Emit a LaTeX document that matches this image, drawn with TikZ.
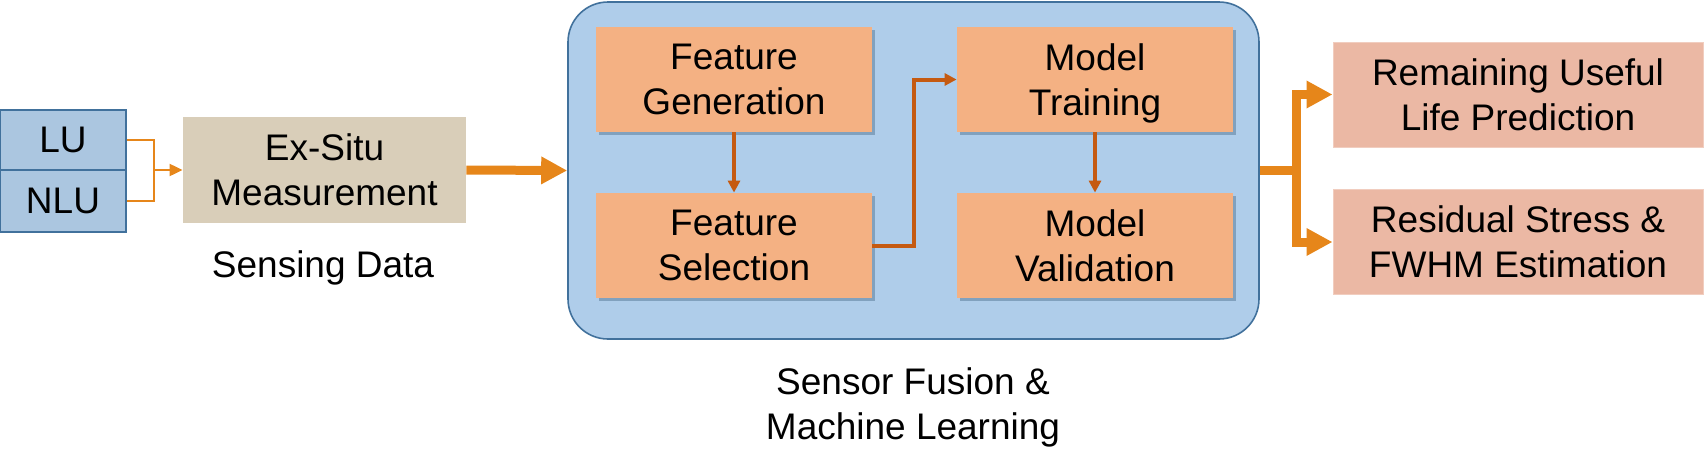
\documentclass[tikz,border=0pt]{standalone}
\usepackage{fontspec}
\setmainfont{Liberation Sans}
\usetikzlibrary{arrows.meta,shadows}
\definecolor{bigfill}{RGB}{175,205,234}
\definecolor{bluedraw}{RGB}{65,113,156}
\definecolor{lufill}{RGB}{171,198,224}
\definecolor{orfill}{RGB}{244,177,131}
\definecolor{tanfill}{RGB}{217,206,185}
\definecolor{outfill}{RGB}{235,184,164}
\definecolor{arrorange}{RGB}{230,134,26}
\definecolor{arrdark}{RGB}{197,90,17}
\begin{document}
\begin{tikzpicture}[x=0.5pt,y=-0.5pt,
  every node/.style={font=\fontsize{18.5}{22.5}\selectfont, align=center, inner sep=0pt},
  lubox/.style={draw=bluedraw, line width=1pt, fill=lufill, minimum width=63pt},
  tanbox/.style={fill=tanfill, minimum width=141.5pt, minimum height=53pt, text depth=0pt},
  bigbox/.style={draw=bluedraw, line width=0.8pt, fill=bigfill, rounded corners=20pt, minimum width=345.5pt, minimum height=168.5pt},
  orbox/.style={fill=orfill, minimum width=138pt, minimum height=52.5pt, text depth=0pt,
     drop shadow={shadow xshift=1.5pt, shadow yshift=-1.5pt, fill=bluedraw!70!black, opacity=0.35}},
  outbox/.style={fill=outfill, draw=outfill!70!white, line width=0.5pt, minimum width=185pt, minimum height=52.5pt, text depth=0pt},
  thinarr/.style={draw=arrorange, line width=1pt},
  thickarr/.style={draw=arrorange, line width=4.5pt, line join=miter},
  bigtip/.style={-{Triangle[length=13pt,width=13pt]}},
  innerarr/.style={draw=arrdark, line width=2pt, line join=miter, -{Triangle[length=6pt,width=6pt]}}
]
\useasboundingbox (0,0) rectangle (1704,472);

% input stack
\node[lubox, minimum height=30pt] (lu) at (63,140) {LU};
\node[lubox, minimum height=31pt] (nlu) at (63,201) {NLU};
\node[tanbox] (ex) at (324.5,170) {Ex-Situ\\Measurement};
\node[anchor=base] (sd) at (323,277) {Sensing Data};

\coordinate (j1) at (154,170);
\draw[thinarr] (lu.east) -| (j1);
\draw[thinarr] (nlu.east) -| (j1);
\draw[thinarr, -{Triangle[length=6.5pt,width=6pt]}] (j1) -- (ex.west);

% fusion block
\node[bigbox] (big) at (913.5,170.5) {};
\node[orbox] (fg) at (734,79.5) {Feature\\Generation};
\node[orbox] (fs) at (734,245.5) {Feature\\Selection};
\node[orbox] (mt) at (1095,79.5) {Model\\Training};
\node[orbox] (mv) at (1095,245.5) {Model\\Validation};
\node (sf) at (913,407) {Sensor Fusion \&\\Machine Learning};

\draw[innerarr] (fg.south) -- (fs.north);
\draw[innerarr] (mt.south) -- (mv.north);
\draw[innerarr] (fs.east) -- ++(42,0) |- (mt.west);

\draw[thickarr, bigtip] (ex.east) -- (big.west);

% outputs
\node[outbox] (rul) at (1518,94.5) {Remaining Useful\\Life Prediction};
\node[outbox] (rse) at (1518,242) {Residual Stress \&\\FWHM Estimation};

\coordinate (j2) at (1296.5,170.5);
\draw[thickarr] (big.east) -- (j2);
\draw[thickarr, bigtip] (j2) |- (rul.west);
\draw[thickarr, bigtip] (j2) |- (rse.west);
\end{tikzpicture}
\end{document}
